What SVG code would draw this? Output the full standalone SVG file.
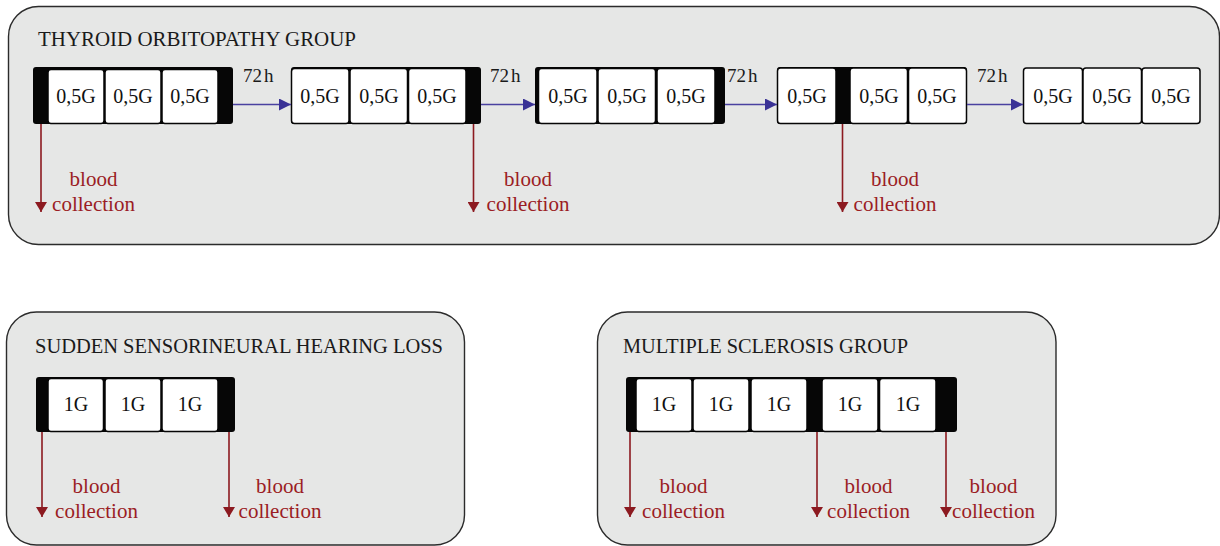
<svg xmlns="http://www.w3.org/2000/svg" width="1220" height="546" viewBox="0 0 1220 546">
<defs>
<style>
.panel{fill:#e6e7e6;stroke:#2b2b2b;stroke-width:1.4}
.bar{fill:#060606}
.cell{fill:#ffffff;stroke:#060606;stroke-width:1.5}
.title{font-family:"Liberation Serif","Times New Roman",serif;font-size:20px;fill:#1a1a1a}
.dose{font-family:"Liberation Serif","Times New Roman",serif;font-size:20px;fill:#111;text-anchor:middle}
.time{font-family:"Liberation Serif","Times New Roman",serif;font-size:19px;fill:#1a1a1a}
.blood{font-family:"Liberation Serif","Times New Roman",serif;font-size:21px;fill:#9b1d24;text-anchor:middle}
.blue{stroke:#4a41a0;stroke-width:1.6;fill:none;marker-end:url(#bh)}
.red{stroke:#8c1a20;stroke-width:1.6;fill:none;marker-end:url(#rh)}
</style>
<marker id="bh" viewBox="0 0 12 12" markerUnits="userSpaceOnUse" markerWidth="12" markerHeight="12" refX="12" refY="6" orient="auto">
<path d="M0,0 L12,6 L0,12 Z" fill="#3a3296"/>
</marker>
<marker id="rh" viewBox="0 0 10 12" markerUnits="userSpaceOnUse" markerWidth="10" markerHeight="12" refX="10" refY="6" orient="auto">
<path d="M0,0 L10,6 L0,12 Z" fill="#8c1a20"/>
</marker>
</defs>

<g id="panel-thyroid">
<rect class="panel" x="8.5" y="6.5" width="1211" height="238" rx="30"/>
<text class="title" x="38" y="46" textLength="318" lengthAdjust="spacingAndGlyphs">THYROID ORBITOPATHY GROUP</text>
</g>
<g id="panel-sshl">
<rect class="panel" x="6.5" y="312" width="458" height="233" rx="30"/>
<text class="title" x="35" y="353" textLength="408" lengthAdjust="spacingAndGlyphs">SUDDEN SENSORINEURAL HEARING LOSS</text>
</g>
<g id="panel-ms">
<rect class="panel" x="597.5" y="312" width="458.5" height="233" rx="30"/>
<text class="title" x="623" y="353" textLength="285" lengthAdjust="spacingAndGlyphs">MULTIPLE SCLEROSIS GROUP</text>
</g>

<g id="to-strip1">
<rect class="bar" x="33" y="67" width="200" height="57" rx="3"/>
<rect class="cell" x="48" y="69.5" width="56" height="54" rx="3"/>
<rect class="cell" x="105" y="69.5" width="56" height="54" rx="3"/>
<rect class="cell" x="162" y="69.5" width="56" height="54" rx="3"/>
<text class="dose" x="76" y="103">0,5G</text>
<text class="dose" x="133" y="103">0,5G</text>
<text class="dose" x="190" y="103">0,5G</text>
</g>
<g id="to-strip2">
<rect class="bar" x="291" y="67" width="190" height="57" rx="3"/>
<rect class="cell" x="291.5" y="68.5" width="57.5" height="55" rx="3"/>
<rect class="cell" x="350" y="68.5" width="57.5" height="55" rx="3"/>
<rect class="cell" x="408.5" y="68.5" width="57.5" height="55" rx="3"/>
<text class="dose" x="320" y="103">0,5G</text>
<text class="dose" x="379" y="103">0,5G</text>
<text class="dose" x="437" y="103">0,5G</text>
</g>
<g id="to-strip3">
<rect class="bar" x="535" y="67" width="190" height="57" rx="3"/>
<rect class="cell" x="538.5" y="68.5" width="58.5" height="55" rx="3"/>
<rect class="cell" x="598" y="68.5" width="57.5" height="55" rx="3"/>
<rect class="cell" x="657" y="68.5" width="58" height="55" rx="3"/>
<text class="dose" x="568" y="103">0,5G</text>
<text class="dose" x="627" y="103">0,5G</text>
<text class="dose" x="686" y="103">0,5G</text>
</g>
<g id="to-strip4">
<rect class="bar" x="777" y="67" width="190" height="57" rx="3"/>
<rect class="cell" x="777.5" y="68" width="58.5" height="55.5" rx="3"/>
<rect class="cell" x="850" y="68" width="57.5" height="55.5" rx="3"/>
<rect class="cell" x="908.5" y="68" width="58" height="55.5" rx="3"/>
<text class="dose" x="807" y="103">0,5G</text>
<text class="dose" x="879" y="103">0,5G</text>
<text class="dose" x="937" y="103">0,5G</text>
</g>
<g id="to-strip5">
<rect class="cell" x="1023.5" y="68" width="59" height="55.5" rx="3"/>
<rect class="cell" x="1083" y="68" width="58.5" height="55.5" rx="3"/>
<rect class="cell" x="1142" y="68" width="58" height="55.5" rx="3"/>
<text class="dose" x="1053" y="103">0,5G</text>
<text class="dose" x="1112" y="103">0,5G</text>
<text class="dose" x="1171" y="103">0,5G</text>
</g>

<g id="sshl-strip">
<rect class="bar" x="36" y="377" width="199" height="55" rx="3"/>
<rect class="cell" x="48" y="378.5" width="55.5" height="53" rx="3"/>
<rect class="cell" x="105" y="378.5" width="56" height="53" rx="3"/>
<rect class="cell" x="162" y="378.5" width="56" height="53" rx="3"/>
<text class="dose" x="76" y="411">1G</text>
<text class="dose" x="133" y="411">1G</text>
<text class="dose" x="190" y="411">1G</text>
</g>

<g id="ms-strip">
<rect class="bar" x="626" y="377" width="331" height="55" rx="3"/>
<rect class="cell" x="636" y="378.5" width="56" height="53" rx="3"/>
<rect class="cell" x="693" y="378.5" width="56" height="53" rx="3"/>
<rect class="cell" x="751" y="378.5" width="56" height="53" rx="3"/>
<rect class="cell" x="822" y="378.5" width="56" height="53" rx="3"/>
<rect class="cell" x="879.5" y="378.5" width="56.5" height="53" rx="3"/>
<text class="dose" x="664" y="411">1G</text>
<text class="dose" x="721" y="411">1G</text>
<text class="dose" x="779" y="411">1G</text>
<text class="dose" x="850" y="411">1G</text>
<text class="dose" x="908" y="411">1G</text>
</g>

<g id="connectors">
<path class="blue" d="M233,104.5 H291"/>
<path class="blue" d="M481,104.5 H535"/>
<path class="blue" d="M725,104.5 H777"/>
<path class="blue" d="M967,104.5 H1023"/>
<path class="red" d="M41,124 V212"/>
<path class="red" d="M473.5,124 V212"/>
<path class="red" d="M842.5,124 V212"/>
<path class="red" d="M42,432 V517"/>
<path class="red" d="M229,432 V517"/>
<path class="red" d="M630,432 V517"/>
<path class="red" d="M817,432 V517"/>
<path class="red" d="M946,432 V517"/>
</g>

<g id="labels">
<text class="time" x="243" y="82">72<tspan dx="2">h</tspan></text>
<text class="time" x="490" y="82">72<tspan dx="2">h</tspan></text>
<text class="time" x="727" y="82">72<tspan dx="2">h</tspan></text>
<text class="time" x="977" y="82">72<tspan dx="2">h</tspan></text>
<text class="blood" x="93.5" y="186">blood</text>
<text class="blood" x="93.5" y="211">collection</text>
<text class="blood" x="528" y="186">blood</text>
<text class="blood" x="528" y="211">collection</text>
<text class="blood" x="895" y="186">blood</text>
<text class="blood" x="895" y="211">collection</text>
<text class="blood" x="96.5" y="493">blood</text>
<text class="blood" x="96.5" y="518">collection</text>
<text class="blood" x="280" y="493">blood</text>
<text class="blood" x="280" y="518">collection</text>
<text class="blood" x="683.5" y="493">blood</text>
<text class="blood" x="683.5" y="518">collection</text>
<text class="blood" x="868.5" y="493">blood</text>
<text class="blood" x="868.5" y="518">collection</text>
<text class="blood" x="993.5" y="493">blood</text>
<text class="blood" x="993.5" y="518">collection</text>
</g>
</svg>
